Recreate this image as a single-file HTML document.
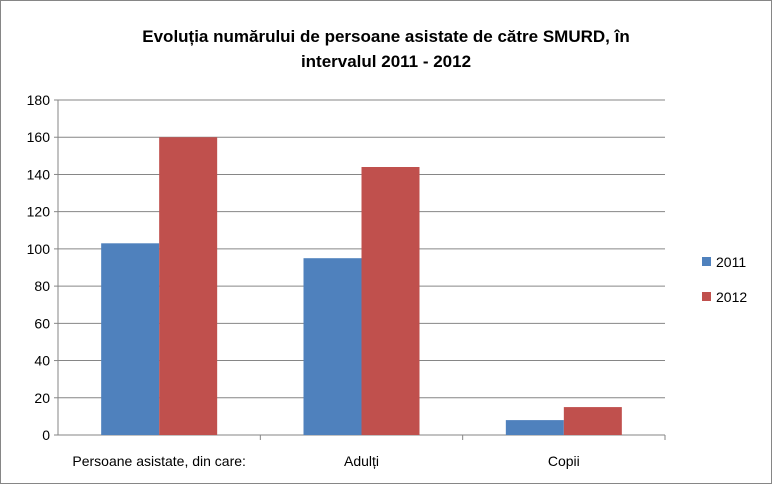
<!DOCTYPE html>
<html><head><meta charset="utf-8"><style>
body{margin:0;background:#fff;}
svg{display:block;font-family:"Liberation Sans",sans-serif;}
</style></head><body>
<svg width="772" height="484">
<rect x="0.5" y="0.5" width="771" height="483" fill="#fff" stroke="#868686"/>
<text x="386" y="42" text-anchor="middle" font-size="17" font-weight="bold">Evoluția numărului de persoane asistate de către SMURD, în</text>
<text x="386" y="67" text-anchor="middle" font-size="17" font-weight="bold">intervalul 2011 - 2012</text>
<g id="grid"></g><g id="bars"></g><g id="labels"></g>
<rect x="702" y="257" width="9" height="9" fill="#4f81bd"/>
<text x="716" y="267" font-size="14">2011</text>
<rect x="702" y="292" width="9" height="9" fill="#c0504d"/>
<text x="716" y="302" font-size="14">2012</text>
</svg>
<script>
const categories=["Persoane asistate, din care:","Adulți","Copii"];
const series2011=[103,95,8];
const series2012=[160,144,15];
const ticks=[0,20,40,60,80,100,120,140,160,180];
const ns="http://www.w3.org/2000/svg";
const x0=58,x1=665,y0=435,yTop=100,maxV=180;
const y=v=>y0-(v/maxV)*(y0-yTop);
const cw=(x1-x0)/categories.length;
const g=document.getElementById('grid'),b=document.getElementById('bars'),l=document.getElementById('labels');
function mk(t,a,p){const e=document.createElementNS(ns,t);for(const k in a)e.setAttribute(k,a[k]);p.appendChild(e);return e;}
ticks.forEach(t=>{
 const ln=mk('line',{x1:x0,x2:x1,y1:y(t),y2:y(t),stroke:t===0?'#868686':'#868686','stroke-width':1},g);
 
 
 const tx=mk('text',{x:x0-8,y:y(t)+5,'text-anchor':'end','font-size':14},g);
 tx.textContent=t;
 
 
 const tk=mk('line',{x1:x0-4,x2:x0,y1:y(t),y2:y(t),stroke:'#868686'},g);
 
 
});
const ax=mk('line',{x1:x0,x2:x0,y1:yTop,y2:y0,stroke:'#868686'},g);


const bw=58;
categories.forEach((c,i)=>{
 const cx=x0+cw*(i+0.5);
 const r1=mk('rect',{x:cx-bw,y:y(series2011[i]),width:bw,height:y0-y(series2011[i]),fill:'#4f81bd'},b);
 
 
 const r2=mk('rect',{x:cx,y:y(series2012[i]),width:bw,height:y0-y(series2012[i]),fill:'#c0504d'},b);
 
 
 const tx=mk('text',{x:cx,y:466,'text-anchor':'middle','font-size':14},l);
 tx.textContent=c;
 
 
 const tk=mk('line',{x1:x0+cw*(i+1),x2:x0+cw*(i+1),y1:y0,y2:y0+5,stroke:'#868686'},l);
 
 
});
</script>
</body></html>
